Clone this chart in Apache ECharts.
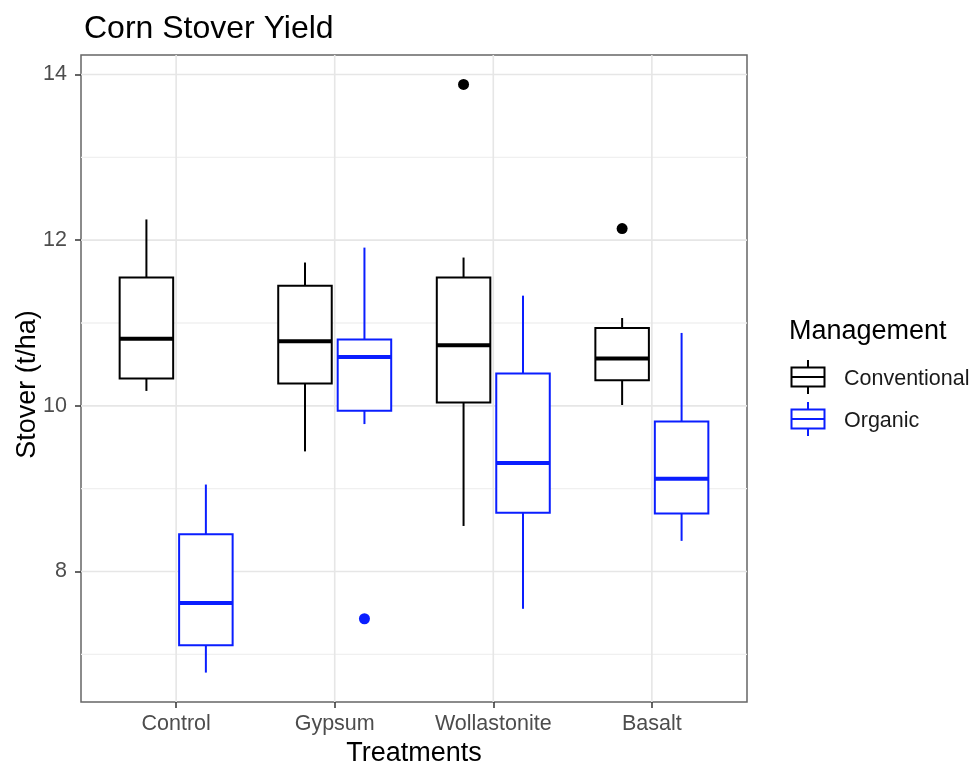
<!DOCTYPE html>
<html><head><meta charset="utf-8">
<script src="https://cdn.jsdelivr.net/npm/echarts@6/dist/echarts.min.js"></script>
<style>html,body{margin:0;padding:0;background:#fff}#c{width:975px;height:766px}</style>
</head><body><div id="c"></div>
<script>
// ---- data ----
const treatments = ['Control', 'Gypsum', 'Wollastonite', 'Basalt'];
const managements = ['Conventional', 'Organic'];
// per treatment: [lower whisker, Q1, median, Q3, upper whisker]
const conventionalBoxes = [
  [10.18, 10.33, 10.81, 11.55, 12.25],
  [9.45, 10.27, 10.78, 11.45, 11.73],
  [8.55, 10.04, 10.73, 11.55, 11.79],
  [10.01, 10.31, 10.57, 10.94, 11.06]
];
const organicBoxes = [
  [6.78, 7.11, 7.62, 8.45, 9.05],
  [9.78, 9.94, 10.59, 10.80, 11.91],
  [7.55, 8.71, 9.31, 10.39, 11.33],
  [8.37, 8.70, 9.12, 9.81, 10.88]
];
// outliers: [treatment index, value]
const conventionalOutliers = [[2, 13.88], [3, 12.14]];
const organicOutliers = [[1, 7.43]];
const yMajorTicks = [8, 10, 12, 14];
const yMinorTicks = [7, 9, 11, 13];

// ---- style / layout ----
const FONT = '"Liberation Sans", Arial, sans-serif';
const COLORS = ['#000000', '#0a1eff'];
const DODGE = 0.1875, BOX_W = 0.3375;
const OFFSETS = [-DODGE, DODGE];

// y range with 5% expansion like ggplot
const allVals = [].concat(...conventionalBoxes, ...organicBoxes,
  conventionalOutliers.map(d => d[1]), organicOutliers.map(d => d[1]));
const dMin = Math.min(...allVals), dMax = Math.max(...allVals);
const pad = (dMax - dMin) * 0.05;
const yMin = dMin - pad, yMax = dMax + pad;

function boxData(boxes) {
  return boxes.map((b, i) => [i + 1].concat(b));
}
function boxRender(color, offset) {
  return function (params, api) {
    const x = api.value(0) + offset;
    const cx = api.coord([x, api.value(3)])[0];
    const half = api.size([BOX_W, 0])[0] / 2;
    const yy = i => api.coord([x, api.value(i)])[1];
    const low = yy(1), q1 = yy(2), med = yy(3), q3 = yy(4), high = yy(5);
    const ls = { stroke: color, lineWidth: 2, fill: null };
    return {
      type: 'group', children: [
        { type: 'line', shape: { x1: cx, y1: high, x2: cx, y2: q3 }, style: ls },
        { type: 'line', shape: { x1: cx, y1: q1, x2: cx, y2: low }, style: ls },
        { type: 'rect', shape: { x: cx - half, y: q3, width: 2 * half, height: q1 - q3 },
          style: { fill: '#fff', stroke: color, lineWidth: 2 } },
        { type: 'line', shape: { x1: cx - half, y1: med, x2: cx + half, y2: med },
          style: { stroke: color, lineWidth: 4 } }
      ]
    };
  };
}
function hGridRender(params, api) {
  const cs = params.coordSys;
  const y = api.coord([1, api.value(1)])[1];
  const major = api.value(2) === 1;
  return { type: 'line', shape: { x1: cs.x, y1: y, x2: cs.x + cs.width, y2: y },
    style: { stroke: major ? '#e6e6e6' : '#f0f0f0', lineWidth: major ? 1.6 : 1.3 } };
}
function vGridRender(params, api) {
  const cs = params.coordSys;
  const x = api.coord([api.value(0), 10])[0];
  return { type: 'line', shape: { x1: x, y1: cs.y, x2: x, y2: cs.y + cs.height },
    style: { stroke: '#e6e6e6', lineWidth: 1.6 } };
}

const hGridData = yMajorTicks.map(v => [1, v, 1]).concat(yMinorTicks.map(v => [1, v, 0]));
const vGridData = treatments.map((t, i) => [i + 1, 10]);

const series = [
  { type: 'custom', silent: true, z: 1, data: hGridData, encode: { x: 0, y: 1 }, renderItem: hGridRender, animation: false },
  { type: 'custom', silent: true, z: 1, data: vGridData, encode: { x: 0, y: 1 }, renderItem: vGridRender, animation: false }
];
[conventionalBoxes, organicBoxes].forEach((boxes, k) => {
  series.push({
    type: 'custom', name: managements[k], z: 3, animation: false,
    data: boxData(boxes), encode: { x: 0, y: [1, 2, 3, 4, 5] },
    renderItem: boxRender(COLORS[k], OFFSETS[k])
  });
});
[conventionalOutliers, organicOutliers].forEach((outs, k) => {
  series.push({
    type: 'scatter', z: 4, animation: false, symbol: 'circle', symbolSize: 11,
    itemStyle: { color: COLORS[k], opacity: 1 },
    data: outs.map(d => [d[0] + 1 + OFFSETS[k], d[1]])
  });
});

// legend drawn as boxplot glyphs with text
const legendX = 808, legendY0 = 377, legendStep = 42;
const legendGraphics = [
  { type: 'text', left: 789, top: 318, style: { text: 'Management', font: '27px ' + FONT, fill: '#000' } }
];
managements.forEach((m, k) => {
  const cy = legendY0 + k * legendStep, c = COLORS[k];
  legendGraphics.push(
    { type: 'line', shape: { x1: legendX, y1: cy - 17, x2: legendX, y2: cy + 17 }, style: { stroke: c, lineWidth: 2 } },
    { type: 'rect', shape: { x: legendX - 16.5, y: cy - 9.5, width: 33, height: 19 }, style: { fill: '#fff', stroke: c, lineWidth: 2 } },
    { type: 'line', shape: { x1: legendX - 16.5, y1: cy, x2: legendX + 16.5, y2: cy }, style: { stroke: c, lineWidth: 2 } },
    { type: 'text', x: 844, y: cy + 2, style: { text: m, font: '21.5px ' + FONT, fill: '#1a1a1a', textVerticalAlign: 'middle' } }
  );
});

const option = {
  animation: false,
  backgroundColor: '#fff',
  textStyle: { fontFamily: FONT },
  title: {
    text: 'Corn Stover Yield', left: 79, top: 8,
    textStyle: { fontSize: 32, fontWeight: 'normal', color: '#000', fontFamily: FONT }
  },
  grid: { left: 81, top: 55, width: 666, height: 647, show: true, containLabel: false, outerBoundsMode: 'none',
    borderColor: '#666', borderWidth: 1.5, backgroundColor: 'transparent' },
  xAxis: {
    type: 'value', min: 0.4, max: 4.6,
    splitLine: { show: false },
    axisLine: { show: false },
    axisTick: { show: true, customValues: [1, 2, 3, 4], length: 6, lineStyle: { color: '#333', width: 1.5 } },
    axisLabel: { customValues: [1, 2, 3, 4], formatter: v => treatments[Math.round(v) - 1], fontSize: 21.5, color: '#4d4d4d', margin: 11, fontFamily: FONT },
    name: 'Treatments', nameLocation: 'middle', nameGap: 38, nameMoveOverlap: false,
    nameTextStyle: { fontSize: 27, color: '#000', fontFamily: FONT }
  },
  yAxis: {
    type: 'value', min: yMin, max: yMax,
    splitLine: { show: false },
    axisLine: { show: false },
    axisTick: { show: true, customValues: yMajorTicks, length: 6, lineStyle: { color: '#333', width: 1.5 } },
    axisLabel: { customValues: yMajorTicks, fontSize: 21.5, color: '#4d4d4d', margin: 14, fontFamily: FONT },
    name: 'Stover (t/ha)', nameLocation: 'middle', nameGap: 40, nameRotate: 90, nameMoveOverlap: false,
    nameTextStyle: { fontSize: 27, color: '#000', fontFamily: FONT, padding: [0, 12, 0, 0] }
  },
  graphic: legendGraphics,
  series: series
};
const chart = echarts.init(document.getElementById('c'), null, { renderer: 'canvas' });
chart.setOption(option);
</script>
</body></html>
